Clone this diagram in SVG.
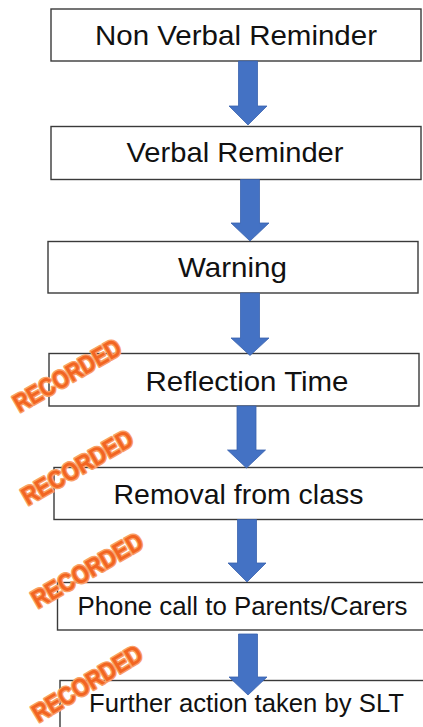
<svg xmlns="http://www.w3.org/2000/svg" width="423" height="727" viewBox="0 0 423 727">
  <style>
    .box { fill: #ffffff; stroke: #3a3a3a; stroke-width: 1.4; }
    .lbl { font-family: "Liberation Sans", Arial, sans-serif; font-size: 28px; fill: #111111; text-anchor: middle; }
    .sm { font-size: 25.5px; }
    .arrow { fill: #4472C4; stroke: #3a62ad; stroke-width: 0.8; }
    .stamp { font-family: "Liberation Sans", Arial, sans-serif; font-weight: bold; font-size: 25px; fill: #F26522; stroke: #F9A066; stroke-width: 3; stroke-linejoin: round; paint-order: stroke; text-anchor: middle; }
  </style>
  <rect width="423" height="727" fill="#ffffff"/>

  <g id="node-non-verbal">
    <rect class="box" x="51" y="9" width="370" height="52"/>
    <text class="lbl" x="236" y="45" textLength="282" lengthAdjust="spacingAndGlyphs">Non Verbal Reminder</text>
  </g>
  <g id="node-verbal">
    <rect class="box" x="51" y="126.5" width="370" height="53"/>
    <text class="lbl" x="235" y="162" textLength="217" lengthAdjust="spacingAndGlyphs">Verbal Reminder</text>
  </g>
  <g id="node-warning">
    <rect class="box" x="48" y="241.5" width="370" height="51.5"/>
    <text class="lbl" x="232.5" y="277" textLength="109" lengthAdjust="spacingAndGlyphs">Warning</text>
  </g>
  <g id="node-reflection">
    <rect class="box" x="49" y="353.5" width="370" height="52.5"/>
    <text class="lbl" x="247" y="391" textLength="203" lengthAdjust="spacingAndGlyphs">Reflection Time</text>
  </g>
  <g id="node-removal">
    <rect class="box" x="54" y="467.5" width="380" height="52"/>
    <text class="lbl" x="238.5" y="503.5" textLength="250" lengthAdjust="spacingAndGlyphs">Removal from class</text>
  </g>
  <g id="node-phone">
    <rect class="box" x="57.5" y="582.5" width="380" height="47.5"/>
    <text class="lbl sm" x="242.5" y="614.5" textLength="330" lengthAdjust="spacingAndGlyphs">Phone call to Parents/Carers</text>
  </g>
  <g id="node-further">
    <rect class="box" x="60" y="680.5" width="380" height="60"/>
    <text class="lbl sm" x="246.5" y="712" textLength="315" lengthAdjust="spacingAndGlyphs">Further action taken by SLT</text>
  </g>

  <g id="connectors">
    <polygon class="arrow" points="238.5,61 257.5,61 257.5,106 267,106 248,125 229,106 238.5,106"/>
    <polygon class="arrow" points="240.5,179.5 259.5,179.5 259.5,223 269,223 250,241 231,223 240.5,223"/>
    <polygon class="arrow" points="240.5,293 259.5,293 259.5,338 269,338 250,355.5 231,338 240.5,338"/>
    <polygon class="arrow" points="237,406 256,406 256,450 265.5,450 246.5,468 227.5,450 237,450"/>
    <polygon class="arrow" points="237.5,519.5 256.5,519.5 256.5,563 266,563 247,582 228,563 237.5,563"/>
    <polygon class="arrow" points="238.5,634 257.5,634 257.5,677 267,677 248,695 229,677 238.5,677"/>
  </g>

  <g id="stamps">
    <text class="stamp" transform="translate(67,375) rotate(-30)" x="0" y="9" textLength="120" lengthAdjust="spacingAndGlyphs">RECORDED</text>
    <text class="stamp" transform="translate(77,467) rotate(-30)" x="0" y="9" textLength="124" lengthAdjust="spacingAndGlyphs">RECORDED</text>
    <text class="stamp" transform="translate(87,570) rotate(-30)" x="0" y="9" textLength="124" lengthAdjust="spacingAndGlyphs">RECORDED</text>
    <text class="stamp" transform="translate(87,683) rotate(-31)" x="0" y="9" textLength="124" lengthAdjust="spacingAndGlyphs">RECORDED</text>
  </g>
</svg>
